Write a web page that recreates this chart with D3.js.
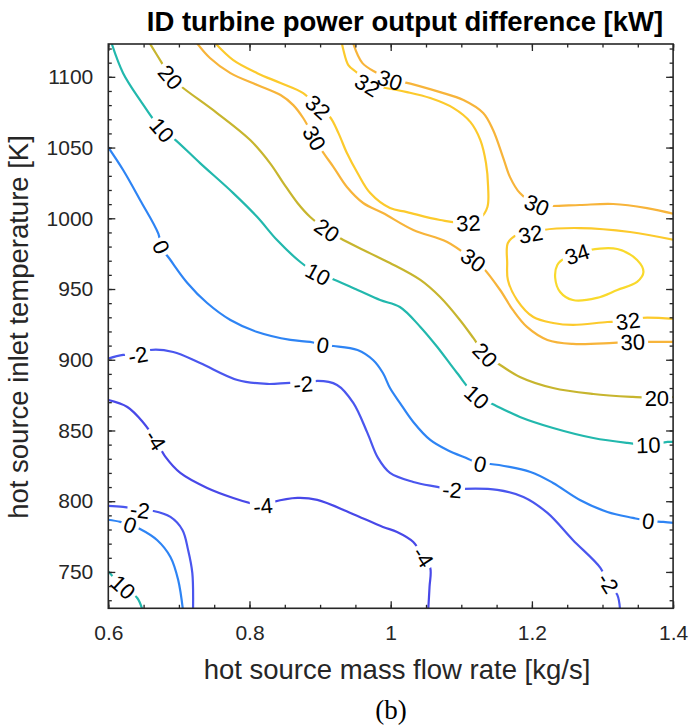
<!DOCTYPE html>
<html><head><meta charset="utf-8">
<script src="https://cdn.jsdelivr.net/npm/d3@7"></script>
<style>body{margin:0;background:#fff}</style>
</head><body>
<script>
// ---------- data ----------
const xTicks=[0.6,0.8,1.0,1.2,1.4];
const xTickLabels=["0.6","0.8","1","1.2","1.4"];
const yTicks=[750,800,850,900,950,1000,1050,1100];
const yTickLabels=["750","800","850","900","950","1000","1050","1100"];
const levels=[-4,-2,0,10,20,30,32,34];

// contour lines: [mass flow rate kg/s, inlet temperature K]
const c10a=[[0.605,1123.2],[0.621,1102.6],[0.645,1083.6],[0.676,1062.4],[0.692,1056.7],[0.730,1039.0],[0.777,1017.8],[0.811,1000.9],[0.839,984.6],[0.872,969.1],[0.897,960.6],[0.914,957.8],[0.953,949.3],[0.985,942.2],[1.013,937.3],[1.042,923.2],[1.066,909.0],[1.094,890.6],[1.122,873.7],[1.141,869.5],[1.183,859.6],[1.230,851.8],[1.287,844.7],[1.335,841.2],[1.365,839.8],[1.392,841.9],[1.402,841.9]];
const c10aLab=[[0.676,1062.4],[0.897,960.6],[1.122,873.7],[1.365,839.8]];
const c10b=[[0.598,751.5],[0.621,739.4],[0.641,731.6],[0.649,722.0]];
const c10bLab=[[0.621,739.4]];
const c20=[[0.659,1123.5],[0.676,1109.7],[0.688,1099.8],[0.706,1092.1],[0.754,1074.4],[0.801,1055.3],[0.829,1039.0],[0.848,1024.9],[0.868,1010.8],[0.886,1000.9],[0.910,991.7],[0.928,986.1],[0.967,976.2],[0.999,968.4],[1.042,956.4],[1.070,944.3],[1.098,928.1],[1.117,915.4],[1.134,903.4],[1.151,897.7],[1.183,887.8],[1.230,880.0],[1.287,875.8],[1.343,873.7],[1.377,873.0],[1.402,873.7]];
const c20Lab=[[0.688,1099.8],[0.910,991.7],[1.134,903.4],[1.377,873.0]];
const c30a=[[0.726,1123.5],[0.744,1113.3],[0.773,1102.6],[0.811,1094.2],[0.844,1087.1],[0.862,1080.0],[0.876,1070.9],[0.892,1056.7],[0.904,1046.8],[0.919,1036.2],[0.938,1022.1],[0.961,1010.8],[0.989,1003.7],[1.032,991.7],[1.080,983.2],[1.117,970.5],[1.131,964.9],[1.155,949.3],[1.173,935.2],[1.193,923.2],[1.222,914.0],[1.258,911.2],[1.315,911.9],[1.343,912.6],[1.363,912.6],[1.402,912.6]];
const c30aLab=[[0.892,1056.7],[1.117,970.5],[1.343,912.6]];
const c30b=[[0.947,1123.5],[0.960,1109.7],[0.981,1102.6],[0.999,1097.7],[1.018,1096.3],[1.070,1089.2],[1.103,1083.6],[1.131,1074.4],[1.145,1062.4],[1.159,1043.3],[1.169,1029.1],[1.183,1017.8],[1.207,1009.4],[1.226,1008.7],[1.268,1009.4],[1.315,1010.1],[1.363,1007.2],[1.402,1003.0]];
const c30bLab=[[0.999,1097.7],[1.207,1009.4]];
const c32a=[[0.752,1123.5],[0.777,1111.8],[0.811,1102.6],[0.844,1095.6],[0.876,1088.5],[0.897,1078.6],[0.914,1071.6],[0.926,1060.2],[0.938,1046.1],[0.953,1032.0],[0.971,1017.8],[0.999,1007.2],[1.023,1004.4],[1.070,998.8],[1.110,996.6],[1.127,1000.2],[1.137,1008.0],[1.138,1022.1],[1.135,1039.0],[1.127,1055.3],[1.113,1068.0],[1.089,1077.9],[1.056,1085.0],[1.023,1089.2],[0.985,1092.8],[0.967,1094.2],[0.953,1102.6],[0.940,1108.3],[0.933,1118.9],[0.931,1123.5]];
const c32aLab=[[0.897,1078.6],[1.110,996.6],[0.967,1094.2]];
const c32b=[[1.402,984.6],[1.339,990.3],[1.268,993.1],[1.216,991.7],[1.198,988.9],[1.179,988.2],[1.166,982.5],[1.165,968.4],[1.166,956.4],[1.179,942.2],[1.202,930.2],[1.230,926.0],[1.258,924.6],[1.307,926.7],[1.336,927.4],[1.353,929.5],[1.402,928.8]];
const c32bLab=[[1.198,988.9],[1.336,927.4]];
const c34=[[1.264,974.7],[1.282,977.6],[1.321,978.3],[1.349,970.5],[1.358,962.0],[1.349,955.0],[1.321,949.3],[1.292,943.7],[1.258,942.2],[1.240,947.9],[1.233,957.8],[1.236,967.0],[1.247,971.9]];
const c34Lab=[[1.264,974.7]];
const c0a=[[0.598,1051.5],[0.621,1034.1],[0.645,1012.9],[0.671,988.9],[0.675,979.7],[0.688,970.5],[0.712,954.3],[0.740,940.1],[0.773,928.1],[0.811,919.6],[0.858,914.0],[0.886,912.6],[0.904,910.4],[0.919,909.7],[0.953,906.9],[0.975,899.8],[0.989,890.6],[0.999,880.0],[1.013,869.5],[1.032,856.0],[1.056,843.3],[1.080,836.2],[1.110,829.9],[1.127,826.3],[1.141,826.3],[1.198,820.7],[1.230,812.9],[1.268,800.9],[1.307,792.4],[1.343,788.2],[1.365,786.1],[1.386,785.4],[1.402,784.7]];
const c0aLab=[[0.675,979.7],[0.904,910.4],[1.127,826.3],[1.365,786.1]];
const c0b=[[0.598,787.0],[0.617,785.4],[0.631,783.2],[0.645,780.4],[0.669,772.6],[0.688,760.6],[0.699,744.3],[0.706,722.0]];
const c0bLab=[[0.631,783.2]];
const cm2a=[[0.598,900.5],[0.621,903.4],[0.642,903.4],[0.659,906.9],[0.692,905.5],[0.730,897.7],[0.783,885.7],[0.825,882.9],[0.858,883.6],[0.876,882.9],[0.896,885.0],[0.924,882.2],[0.947,869.5],[0.967,848.3],[0.982,830.6],[0.999,820.0],[1.032,813.6],[1.066,810.1],[1.087,808.0],[1.103,808.7],[1.151,808.0],[1.188,803.0],[1.222,791.7],[1.258,772.6],[1.297,752.9],[1.308,742.2],[1.321,733.8],[1.325,722.0]];
const cm2aLab=[[0.642,903.4],[0.876,882.9],[1.087,808.0],[1.308,742.2]];
const cm2b=[[0.598,796.7],[0.621,796.0],[0.645,793.8],[0.664,793.1],[0.688,788.9],[0.705,779.7],[0.713,765.6],[0.719,749.3],[0.720,722.0]];
const cm2bLab=[[0.645,793.8]];
const cm4=[[0.598,871.8],[0.627,866.6],[0.650,855.3],[0.667,843.3],[0.681,831.3],[0.702,820.0],[0.740,809.4],[0.777,802.3],[0.805,798.1],[0.819,796.7],[0.834,799.5],[0.868,802.3],[0.896,800.9],[0.943,791.7],[0.989,781.8],[1.009,778.3],[1.032,771.2],[1.046,760.6],[1.056,752.9],[1.055,739.4],[1.053,722.0]];
const cm4Lab=[[0.667,843.3],[0.819,796.7],[1.046,760.6]];

const contours=[
  {level:-4,pts:cm4,labels:cm4Lab},
  {level:-2,pts:cm2a,labels:cm2aLab},
  {level:-2,pts:cm2b,labels:cm2bLab},
  {level:0,pts:c0a,labels:c0aLab},
  {level:0,pts:c0b,labels:c0bLab},
  {level:10,pts:c10a,labels:c10aLab},
  {level:10,pts:c10b,labels:c10bLab},
  {level:20,pts:c20,labels:c20Lab},
  {level:30,pts:c30a,labels:c30aLab},
  {level:30,pts:c30b,labels:c30bLab},
  {level:32,pts:c32a,labels:c32aLab},
  {level:32,pts:c32b,labels:c32bLab},
  {level:34,pts:c34,labels:c34Lab,closed:true}
];

// ---------- styles ----------
const levelColors=["#4848e8","#4a56ee","#2e84f4","#22b8ad","#c7b52e","#f7b43a","#fcca2c","#f9d92c"];
const color=d3.scaleOrdinal().domain(levels).range(levelColors);
const W=693,H=727;
const FONT="'Liberation Sans', Arial, Helvetica, sans-serif";
const AX="#262626";
const LABEL_SIZE=22;

const x=d3.scaleLinear().domain([0.6,1.4]).range([108.3,673.1]);
const y=d3.scaleLinear().domain([724.3,1123.2]).range([608.3,44]);

const svg=d3.select("body").append("svg").attr("width",W).attr("height",H)
  .style("font-family",FONT);
const defs=svg.append("defs");
defs.append("clipPath").attr("id","clip").append("rect")
  .attr("x",x(0.6)).attr("y",y(1123.2)).attr("width",x(1.4)-x(0.6)).attr("height",y(724.3)-y(1123.2));

const plotG=svg.append("g").attr("clip-path","url(#clip)");
const labG=svg.append("g");
const line=d3.line().x(d=>x(d[0])).y(d=>y(d[1])).curve(d3.curveCatmullRom.alpha(0.5));
const lineClosed=d3.line().x(d=>x(d[0])).y(d=>y(d[1])).curve(d3.curveCatmullRomClosed.alpha(0.5));

contours.forEach((c,k)=>{
  const pts=c.pts.map(p=>[x(p[0]),y(p[1])]);
  const n=pts.length;
  const mask=defs.append("mask").attr("id","m"+k).attr("maskUnits","userSpaceOnUse")
    .attr("x",0).attr("y",0).attr("width",W).attr("height",H);
  mask.append("rect").attr("width",W).attr("height",H).attr("fill","#fff");
  c.labels.forEach(L=>{
    const px=x(L[0]),py=y(L[1]);
    let bi=0,bd=1e9;
    pts.forEach((p,i)=>{const d=(p[0]-px)**2+(p[1]-py)**2;if(d<bd){bd=d;bi=i;}});
    const a=pts[c.closed?(bi-1+n)%n:Math.max(bi-1,0)];
    const b=pts[c.closed?(bi+1)%n:Math.min(bi+1,n-1)];
    let ang=Math.atan2(b[1]-a[1],b[0]-a[0])*180/Math.PI;
    if(ang>90)ang-=180; if(ang<=-90)ang+=180;
    const tr=`translate(${px},${py}) rotate(${ang})`;
    const t=labG.append("text").attr("transform",tr).attr("text-anchor","middle")
      .attr("dy","0.36em").attr("font-size",LABEL_SIZE).attr("fill","#000").text(String(c.level));
    const w=t.node().getComputedTextLength();
    mask.append("rect").attr("x",-w/2-3).attr("y",-10.5).attr("width",w+6).attr("height",21)
      .attr("transform",tr).attr("fill","#000");
  });
  plotG.append("path").attr("d",(c.closed?lineClosed:line)(c.pts))
    .attr("fill","none").attr("stroke",color(c.level)).attr("stroke-width",2.2)
    .attr("stroke-linejoin","round").attr("mask",`url(#m${k})`);
});

// ---------- axes ----------
function styleAxis(g){
  g.select(".domain").remove();
  g.selectAll(".tick line").attr("stroke",AX).attr("stroke-width",1.3);
  g.selectAll(".tick text").attr("fill","#262626").attr("font-size",21).attr("font-family",FONT);
}
const xMinor=x.ticks(16), yMinor=y.ticks(40);
const pB=y(724.3), pT=y(1123.2), pL=x(0.6), pR=x(1.4);

svg.append("g").attr("transform",`translate(0,${pB})`)
  .call(d3.axisBottom(x).tickValues(xMinor).tickSizeInner(-3.5).tickSizeOuter(0).tickFormat("")).call(styleAxis);
svg.append("g").attr("transform",`translate(0,${pT})`)
  .call(d3.axisTop(x).tickValues(xMinor).tickSizeInner(-3.5).tickSizeOuter(0).tickFormat("")).call(styleAxis);
svg.append("g").attr("transform",`translate(${pL},0)`)
  .call(d3.axisLeft(y).tickValues(yMinor).tickSizeInner(-3.5).tickSizeOuter(0).tickFormat("")).call(styleAxis);
svg.append("g").attr("transform",`translate(${pR},0)`)
  .call(d3.axisRight(y).tickValues(yMinor).tickSizeInner(-3.5).tickSizeOuter(0).tickFormat("")).call(styleAxis);

svg.append("g").attr("transform",`translate(0,${pB})`)
  .call(d3.axisBottom(x).tickValues(xTicks).tickSizeInner(-7).tickSizeOuter(0).tickPadding(17)
    .tickFormat((d,i)=>xTickLabels[i])).call(styleAxis);
svg.append("g").attr("transform",`translate(0,${pT})`)
  .call(d3.axisTop(x).tickValues(xTicks).tickSizeInner(-7).tickSizeOuter(0).tickFormat("")).call(styleAxis);
svg.append("g").attr("transform",`translate(${pL},0)`)
  .call(d3.axisLeft(y).tickValues(yTicks).tickSizeInner(-7).tickSizeOuter(0).tickPadding(15)
    .tickFormat((d,i)=>yTickLabels[i])).call(styleAxis);
svg.append("g").attr("transform",`translate(${pR},0)`)
  .call(d3.axisRight(y).tickValues(yTicks).tickSizeInner(-7).tickSizeOuter(0).tickFormat("")).call(styleAxis);

svg.append("rect").attr("x",pL).attr("y",pT).attr("width",pR-pL).attr("height",pB-pT)
  .attr("fill","none").attr("stroke",AX).attr("stroke-width",1.6);

// ---------- texts ----------
svg.append("text").attr("x",405).attr("y",31).attr("text-anchor","middle")
  .attr("font-size",27.5).attr("font-weight","bold").attr("fill","#000")
  .text("ID turbine power output difference [kW]");
svg.append("text").attr("x",397).attr("y",679).attr("text-anchor","middle")
  .attr("font-size",27.5).attr("fill","#262626").text("hot source mass flow rate [kg/s]");
svg.append("text").attr("transform","translate(28,327) rotate(-90)").attr("text-anchor","middle")
  .attr("font-size",27.5).attr("fill","#262626").text("hot source inlet temperature [K]");
svg.append("text").attr("x",391).attr("y",719).attr("text-anchor","middle")
  .attr("font-size",27).attr("font-family","'Liberation Serif','Times New Roman',serif")
  .attr("fill","#000").text("(b)");
</script>
</body></html>
